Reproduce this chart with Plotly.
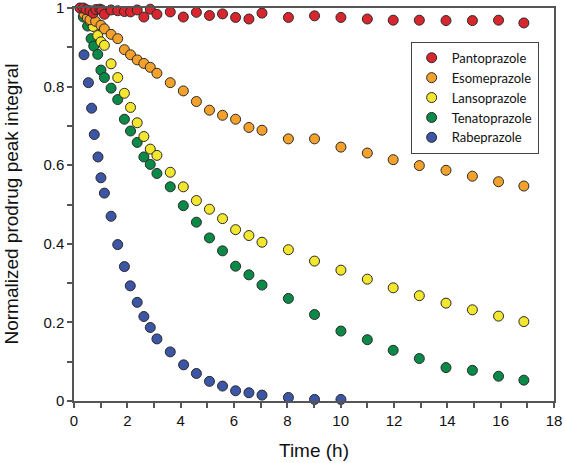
import plotly.graph_objects as go

# Pantoprazole
panto_t = [0.22, 0.35, 0.45, 0.6, 0.72, 0.82, 0.97, 1.04, 1.14, 1.39, 1.64, 1.89, 2.12, 2.37, 2.62, 2.86, 3.11, 3.61, 4.1, 4.59, 5.08,
           5.57, 6.06, 6.56, 7.05, 8.04, 9.02, 10.01, 11.0, 11.97, 12.95, 13.95, 14.94, 15.92, 16.87]
panto_y = [1.0, 1.0, 0.996, 0.993, 0.987, 0.996, 0.997, 0.995, 0.984, 0.995, 0.993, 0.991, 0.99, 0.995, 0.977, 0.997, 0.984, 0.99, 0.977, 0.989, 0.981,
           0.985, 0.976, 0.972, 0.987, 0.976, 0.98, 0.976, 0.972, 0.969, 0.969, 0.968, 0.968, 0.969, 0.962]

# Esomeprazole
eso_t = [0.375, 0.5, 0.6, 0.81, 1.01, 1.14, 1.39, 1.64, 1.89, 2.12, 2.37, 2.62, 2.86, 3.11, 3.61, 4.1, 4.59, 5.08,
         5.57, 6.06, 6.56, 7.05, 8.04, 9.02, 10.01, 11.0, 11.97, 12.95, 13.95, 14.94, 15.92, 16.87]
eso_y = [0.985, 0.975, 0.97, 0.966, 0.956, 0.947, 0.933, 0.922, 0.894, 0.881, 0.868, 0.859, 0.849, 0.834, 0.81, 0.789, 0.762, 0.74,
         0.727, 0.717, 0.696, 0.689, 0.667, 0.667, 0.646, 0.631, 0.614, 0.599, 0.587, 0.572, 0.558, 0.547]

# Lansoprazole
lanso_t = [0.375, 0.5, 0.625, 0.72, 0.89, 1.01, 1.14, 1.39, 1.64, 1.89, 2.12, 2.37, 2.62, 2.86, 3.11, 3.61, 4.1, 4.59, 5.08,
           5.57, 6.06, 6.56, 7.05, 8.04, 9.02, 10.01, 11.0, 11.97, 12.95, 13.95, 14.94, 15.92, 16.87]
lanso_y = [0.99, 0.98, 0.965, 0.953, 0.93, 0.914, 0.905, 0.858, 0.823, 0.783, 0.747, 0.708, 0.673, 0.641, 0.625, 0.582, 0.545, 0.51, 0.488,
           0.464, 0.436, 0.421, 0.404, 0.385, 0.356, 0.333, 0.31, 0.288, 0.268, 0.249, 0.232, 0.216, 0.202]

# Tenatoprazole
tena_t = [0.35, 0.51, 0.64, 0.74, 0.89, 1.01, 1.14, 1.39, 1.64, 1.89, 2.12, 2.37, 2.62, 2.86, 3.11, 3.61, 4.1, 4.59, 5.08,
          5.57, 6.06, 6.56, 7.05, 8.04, 9.02, 10.01, 11.0, 11.97, 12.95, 13.95, 14.94, 15.92, 16.87]
tena_y = [0.977, 0.954, 0.922, 0.903, 0.882, 0.842, 0.823, 0.796, 0.767, 0.717, 0.687, 0.658, 0.621, 0.602, 0.579, 0.545, 0.497, 0.455, 0.415,
          0.382, 0.343, 0.321, 0.295, 0.261, 0.22, 0.178, 0.156, 0.129, 0.108, 0.085, 0.078, 0.063, 0.053]

# Rabeprazole
rabe_t = [0.375, 0.54, 0.66, 0.76, 0.9, 1.01, 1.14, 1.39, 1.64, 1.89, 2.11, 2.37, 2.62, 2.86, 3.11, 3.61, 4.11, 4.59, 5.08,
          5.57, 6.06, 6.56, 7.05, 8.04, 9.02, 10.01]
rabe_y = [0.881, 0.81, 0.745, 0.678, 0.621, 0.568, 0.529, 0.47, 0.398, 0.342, 0.293, 0.251, 0.215, 0.187, 0.158, 0.125, 0.092, 0.07, 0.05,
          0.038, 0.026, 0.021, 0.015, 0.009, 0.004, 0.004]

series = [
    ("Pantoprazole", panto_t, panto_y, "#d7262e"),
    ("Esomeprazole", eso_t, eso_y, "#f4a12c"),
    ("Lansoprazole", lanso_t, lanso_y, "#f2e62e"),
    ("Tenatoprazole", tena_t, tena_y, "#0b8a47"),
    ("Rabeprazole", rabe_t, rabe_y, "#3c55a5"),
]

x_ticks = [0, 2, 4, 6, 8, 10, 12, 14, 16, 18]
y_ticks = [0, 0.2, 0.4, 0.6, 0.8, 1]
y_tick_labels = ["0", "0.2", "0.4", "0.6", "0.8", "1"]
x_title = "Time (h)"
y_title = "Normalized prodrug peak integral"

fig = go.Figure()
# draw in reverse so that Pantoprazole is on top
for name, t, y, c in reversed(series):
    fig.add_trace(go.Scatter(
        x=t, y=y, mode="markers", name=name, cliponaxis=False,
        marker=dict(size=10, color=c, line=dict(color="#2a2a2a", width=1)),
    ))

font = "Liberation Sans"
axis_common = dict(
    showgrid=False, zeroline=False, showline=True, linecolor="#555555", linewidth=1.5,
    mirror=True, ticks="outside", ticklen=5, tickcolor="#555555", tickwidth=1.5,
    tickfont=dict(family=font, size=15, color="#111111"), automargin=False,
    ticklabeloverflow="allow",
)
fig.update_xaxes(
    range=[0, 18], tickvals=x_ticks,
    minor=dict(dtick=1, ticks="outside", ticklen=5, tickcolor="#555555", tickwidth=1.5),
    title=dict(text=x_title, font=dict(family=font, size=19, color="#111111"), standoff=16),
    **axis_common,
)
fig.update_yaxes(
    range=[0, 1], tickvals=y_ticks, ticktext=y_tick_labels,
    minor=dict(dtick=0.1, ticks="outside", ticklen=5, tickcolor="#555555", tickwidth=1.5),
    **axis_common,
)
fig.add_annotation(
    text=y_title, xref="paper", yref="paper", x=0, y=0.5,
    xanchor="center", yanchor="middle", xshift=-63, textangle=-90,
    showarrow=False, font=dict(family=font, size=19, color="#111111"),
)
fig.update_layout(
    width=564, height=463,
    margin=dict(l=74, r=10, t=8, b=62),
    plot_bgcolor="white", paper_bgcolor="white",
    hovermode=False,
    legend=dict(
        x=0.968, y=0.914, xanchor="right", yanchor="top",
        bordercolor="#444444", borderwidth=1, bgcolor="white",
        font=dict(family="Lato", size=13, color="#111111"),
        traceorder="reversed", itemwidth=30,
    ),
    showlegend=True,
)
fig.write_html("out.html", config={"displayModeBar": False},
               post_script="document.body.style.margin='0';")
